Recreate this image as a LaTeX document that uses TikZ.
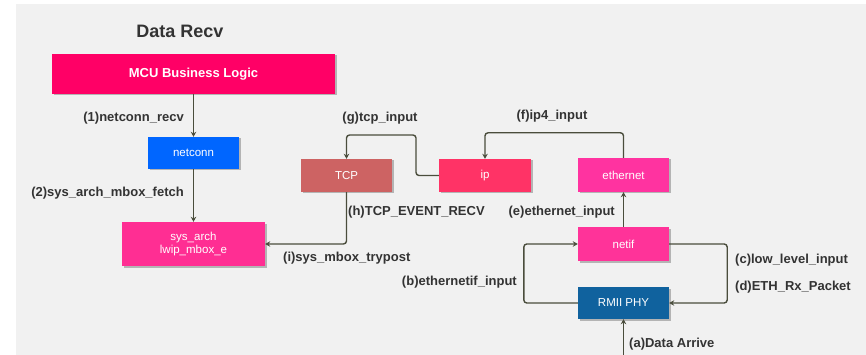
\documentclass[tikz,border=0pt]{standalone}
\usepackage{fontspec}
\setmainfont{Liberation Sans}
\usetikzlibrary{arrows.meta,shadows,calc}
\definecolor{bgc}{HTML}{F1F1F1}
\definecolor{cmcu}{HTML}{FF0066}
\definecolor{cnetconn}{HTML}{0066FF}
\definecolor{csys}{HTML}{FF2E93}
\definecolor{ctcp}{HTML}{CD6363}
\definecolor{cip}{HTML}{FF3366}
\definecolor{ceth}{HTML}{FF33A0}
\definecolor{cnetif}{HTML}{FF3399}
\definecolor{crmii}{HTML}{10629E}
\definecolor{cline}{HTML}{4A4D3C}
\definecolor{ctext}{HTML}{333333}
\begin{document}
\begin{tikzpicture}[x=1pt,y=-1pt,
  box/.style={draw=none,inner sep=0pt,text=white,font=\fontsize{11.5}{13}\selectfont,align=center,
    drop shadow={shadow xshift=1.5pt,shadow yshift=-1.5pt,fill=black,opacity=0.25}},
  conn/.style={draw=cline,line width=1.4pt,rounded corners=3pt,-{Stealth[length=5pt,width=5.5pt]}},
  lbl/.style={inner sep=0pt,text=ctext,font=\bfseries\fontsize{13}{15}\selectfont}]
\useasboundingbox (0,0) rectangle (866,355);
\fill[bgc] (16,4) rectangle (866,355);

\node[lbl,font=\bfseries\fontsize{18}{20}\selectfont] (title) at (180,31) {Data Recv};

\node[box,fill=cmcu,minimum width=283pt,minimum height=40pt,font=\bfseries\fontsize{13}{15}\selectfont] (mcu) at (193.5,74) {MCU Business Logic};
\node[box,fill=cnetconn,minimum width=91pt,minimum height=32pt] (netconn) at (193.5,153) {netconn};
\node[box,fill=csys,minimum width=143pt,minimum height=44pt] (sys) at (193.5,244) {sys\_arch\\lwip\_mbox\_e};
\node[box,fill=ctcp,minimum width=91pt,minimum height=33pt] (tcp) at (346.5,175.5) {TCP};
\node[box,fill=cip,minimum width=92pt,minimum height=33pt] (ip) at (485,175.5) {ip};
\node[box,fill=ceth,minimum width=91pt,minimum height=34pt] (eth) at (623.5,175) {ethernet};
\node[box,fill=cnetif,minimum width=91pt,minimum height=34pt] (netif) at (623.5,244) {netif};
\node[box,fill=crmii,minimum width=91pt,minimum height=32pt] (rmii) at (623.5,303) {RMII PHY};

\coordinate (g1) at (416,135);
\coordinate (abot) at (623.5,356);

\draw[conn] (mcu.south) -- (netconn.north);
\draw[conn] (netconn.south) -- (sys.north);
\draw[conn] (ip.west) -| (g1) -| (tcp.north);
\draw[conn] (eth.north) -- ++(0,-25) -| (ip.north);
\draw[conn] (tcp.south) |- (sys.east);
\draw[conn] (netif.north) -- (eth.south);
\draw[conn] (rmii.west) -- ++(-54,0) |- (netif.west);
\draw[conn] (netif.east) -- ++(58,0) |- (rmii.east);
\draw[conn] (abot) -- (rmii.south);

\node[lbl,anchor=east] (l1) at (184,118) {(1)netconn\_recv};
\node[lbl,anchor=east] (l2) at (184,193) {(2)sys\_arch\_mbox\_fetch};
\node[lbl] (lg) at (380,118) {(g)tcp\_input};
\node[lbl] (lf) at (552,116) {(f)ip4\_input};
\node[lbl,anchor=west] (lh) at (348,212) {(h)TCP\_EVENT\_RECV};
\node[lbl,anchor=east] (le) at (615,212) {(e)ethernet\_input};
\node[lbl,anchor=west] (li) at (283,258) {(i)sys\_mbox\_trypost};
\node[lbl,anchor=east] (lb) at (517,282) {(b)ethernetif\_input};
\node[lbl,anchor=west] (lc) at (735,260) {(c)low\_level\_input};
\node[lbl,anchor=west] (ld) at (735,287) {(d)ETH\_Rx\_Packet};
\node[lbl,anchor=west] (la) at (629,344) {(a)Data Arrive};
\end{tikzpicture}
\end{document}
